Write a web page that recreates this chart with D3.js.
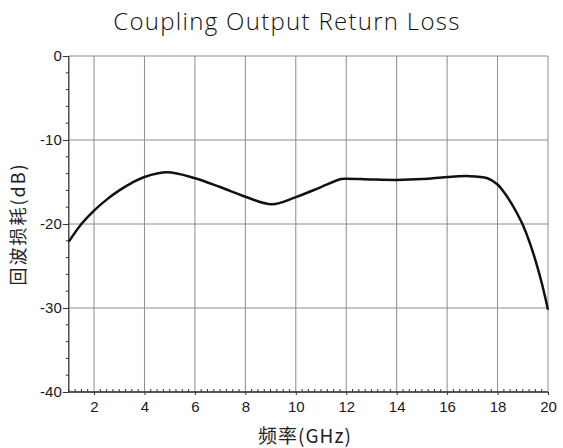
<!DOCTYPE html>
<html><head><meta charset="utf-8">
<script src="https://cdn.jsdelivr.net/npm/d3@7/dist/d3.min.js"></script>
<style>body{margin:0;background:#fff;}svg{display:block;}</style>
</head><body><svg id="c" width="563" height="448"></svg>
<script>
const freq = [1, 1.5, 2, 2.5, 3, 3.5, 4, 4.9, 6, 7, 8, 9.05, 10, 11, 11.8, 12, 13, 14, 15, 16, 16.8, 17.6, 18, 18.25, 18.5, 18.75, 19, 19.25, 19.5, 19.75, 20];
const loss = [-22.1, -20.0, -18.4, -17.1, -16.0, -15.1, -14.4, -13.85, -14.55, -15.6, -16.75, -17.65, -16.8, -15.6, -14.65, -14.6, -14.7, -14.75, -14.65, -14.4, -14.3, -14.55, -15.3, -16.2, -17.3, -18.6, -20.1, -22.0, -24.3, -27.0, -30.2];
const xTicks = [2, 4, 6, 8, 10, 12, 14, 16, 18, 20];
const yTicks = [0, -10, -20, -30, -40];
const title = "Coupling Output Return Loss";
const xLabel = "频率(GHz)";
const yLabel = "回波损耗(dB)";

const svg = d3.select("#c");
const L = 68.8, R = 548, T = 56, B = 392;
const x = d3.scaleLinear().domain([1, 20]).range([L, R]);
const y = d3.scaleLinear().domain([0, -40]).range([T, B]);

// grid
const g = svg.append("g");
g.selectAll(".vg").data(xTicks).join("line")
  .attr("x1", d => x(d)).attr("x2", d => x(d)).attr("y1", T).attr("y2", B)
  .attr("stroke", "#8c8c8c").attr("stroke-width", 1);
g.selectAll(".hg").data(yTicks).join("line")
  .attr("x1", L).attr("x2", R).attr("y1", d => y(d)).attr("y2", d => y(d))
  .attr("stroke", "#8c8c8c").attr("stroke-width", 1);

// minor ticks
const xMinor = d3.range(1, 20.001, 0.25).filter(v => Math.abs(v / 2 - Math.round(v / 2)) > 1e-6);
g.selectAll(".xm").data(xMinor).join("line")
  .attr("x1", d => x(d)).attr("x2", d => x(d)).attr("y1", B - 3).attr("y2", B)
  .attr("stroke", "#333").attr("stroke-width", 1);
const yMinor = d3.range(0, -40.001, -2).filter(v => v % 10 !== 0);
g.selectAll(".ym").data(yMinor).join("line")
  .attr("x1", L - 3).attr("x2", L).attr("y1", d => y(d)).attr("y2", d => y(d))
  .attr("stroke", "#333").attr("stroke-width", 1);

// axes
const xAxis = d3.axisBottom(x).tickValues(xTicks).tickSize(3).tickPadding(6).tickFormat(d3.format("d"));
const yAxis = d3.axisLeft(y).tickValues(yTicks).tickSize(6).tickPadding(1).tickFormat(d => d === 0 ? "0" : "-" + Math.abs(d));
const gx = svg.append("g").attr("transform", `translate(0,${B})`).call(xAxis);
const gy = svg.append("g").attr("transform", `translate(${L},0)`).call(yAxis);
[gx, gy].forEach(a => {
  a.attr("font-family", null).attr("font-size", null);
  a.select(".domain").attr("stroke", "#333").attr("stroke-width", 1.3);
  a.selectAll(".tick line").attr("stroke", "#333");
  a.selectAll("text").style("font-family", "'Liberation Sans', Arial, sans-serif").style("font-size", "15px").attr("fill", "#1a1a1a");
});
gy.select(".domain").attr("d", `M0,${T}V${B}`);
gx.select(".domain").attr("d", `M${L},0H${R}`);

// line
const line = d3.line().x((d, i) => x(freq[i])).y(d => y(d)).curve(d3.curveCatmullRom.alpha(0.5));
svg.append("path").datum(loss).attr("d", line)
  .attr("fill", "none").attr("stroke", "#111").attr("stroke-width", 2.5);

// title & labels
svg.append("text").attr("x", 287).attr("y", 30).attr("text-anchor", "middle")
  .style("font-family", "'Open Sans', sans-serif").style("font-weight", 300)
  .style("font-size", "24px").style("letter-spacing", "1.3px").attr("fill", "#111").text(title);
svg.append("text").attr("x", 305).attr("y", 443).attr("text-anchor", "middle")
  .style("font-family", "'Noto Sans CJK SC', sans-serif").style("font-size", "19px").style("letter-spacing", "1px").attr("fill", "#222").text(xLabel);
svg.append("text").attr("transform", "translate(25,224) rotate(-90)").attr("text-anchor", "middle")
  .style("font-family", "'Noto Sans CJK SC', sans-serif").style("font-size", "18px").style("letter-spacing", "2px").attr("fill", "#222").text(yLabel);
</script></body></html>
